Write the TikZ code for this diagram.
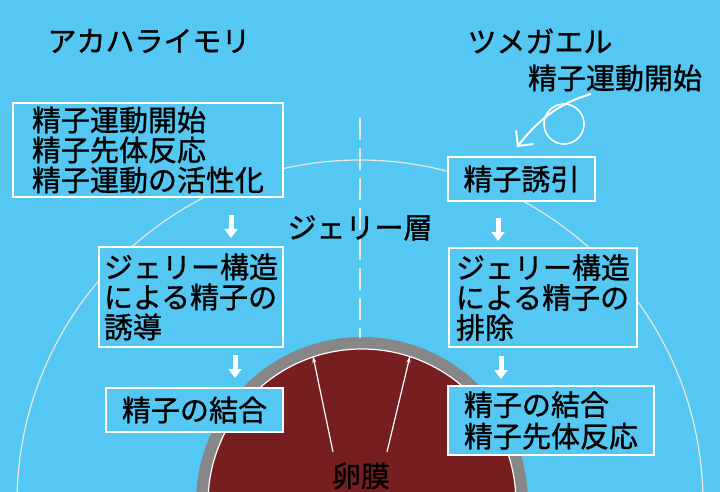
\documentclass[tikz,border=0pt]{standalone}
\usepackage{fontspec}
\newfontfamily\jp[FakeBold=1.0]{Noto Sans CJK JP}
\usetikzlibrary{arrows.meta}
\definecolor{bgblue}{RGB}{84,199,243}
\definecolor{eggred}{RGB}{118,30,32}
\definecolor{ringgray}{RGB}{135,135,135}
\definecolor{linegray}{RGB}{232,232,225}
\begin{document}
\begin{tikzpicture}[x=1pt,y=-1pt,
  box/.style={draw=white, line width=1.8pt, fill=bgblue, inner sep=2pt, align=left,
              font=\jp\fontsize{29}{30}\selectfont, text=black},
  lbl/.style={font=\jp\fontsize{29}{30}\selectfont, text=black, inner sep=0pt},
  downarr/.style={white, line width=5pt, -{Triangle[width=13pt,length=9pt]}},
  thinarr/.style={white, line width=1.2pt, -{Stealth[length=7pt,width=4pt]}},
]
\useasboundingbox (0,0) rectangle (720,492);
\clip (0,0) rectangle (720,492);
\fill[bgblue] (0,0) rectangle (720,492);
% jelly layer boundary
\draw[linegray, line width=1.2pt] (360,503) circle [radius=343pt];
% egg
\fill[ringgray] (362,503) circle [radius=166pt];
\filldraw[fill=eggred, draw=white, line width=1.2pt] (362,503) circle [radius=154pt];
% dashed divider
\draw[linegray, line width=1.5pt, dash pattern=on 22pt off 8pt] (360,118) -- (360,338);
% egg inner arrows
\coordinate (e1s) at (333,452); \coordinate (e1t) at (313,356);
\coordinate (e2s) at (387,452); \coordinate (e2t) at (410,356);
\draw[thinarr] (e1s) -- (e1t);
\draw[thinarr] (e2s) -- (e2t);
% boxes
\node[box, minimum width=270pt, minimum height=94pt] (a1) at (148,150)
  {精子運動開始\\精子先体反応\\精子運動の活性化};
\node[box, minimum width=184pt, minimum height=100pt] (a2) at (191,297)
  {ジェリー構造\\による精子の\\誘導};
\node[box, minimum width=177pt, minimum height=44pt] (a3) at (194.5,410)
  {精子の結合};
\node[box, minimum width=147pt, minimum height=44pt] (b1) at (521.5,179)
  {精子誘引};
\node[box, minimum width=188pt, minimum height=99pt] (b2) at (543,297.5)
  {ジェリー構造\\による精子の\\排除};
\node[box, minimum width=206pt, minimum height=69pt, font=\jp\fontsize{29}{31.5}\selectfont] (b3) at (551,420.5)
  {精子の結合\\精子先体反応};
% down arrows
\coordinate (da1s) at (231,215); \coordinate (da1e) at (231,238);
\coordinate (da2s) at (235,355); \coordinate (da2e) at (235,378);
\coordinate (db1s) at (498,218); \coordinate (db1e) at (498,241);
\coordinate (db2s) at (501,356); \coordinate (db2e) at (501,379);
\draw[downarr] (da1s) -- (da1e);
\draw[downarr] (da2s) -- (da2e);
\draw[downarr] (db1s) -- (db1e);
\draw[downarr] (db2s) -- (db2e);
% spiral arrow
\coordinate (sp0) at (591,94); \coordinate (sp1) at (517,147);
\draw[white, line width=2pt, -{Straight Barb[length=11pt,width=22pt]}]
  (sp0) .. controls (560,103) and (540,118) .. (sp1);
\draw[white, line width=1.6pt] (564,124) circle [radius=20pt];
% labels
\node[lbl] (t1) at (149,41) {アカハライモリ};
\node[lbl] (t2) at (540,41) {ツメガエル};
\node[lbl] (t3) at (615,78) {精子運動開始};
\node[lbl] (jl) at (360,228) {ジェリー層};
\node[lbl] (em) at (361,476) {卵膜};
\end{tikzpicture}
\end{document}
